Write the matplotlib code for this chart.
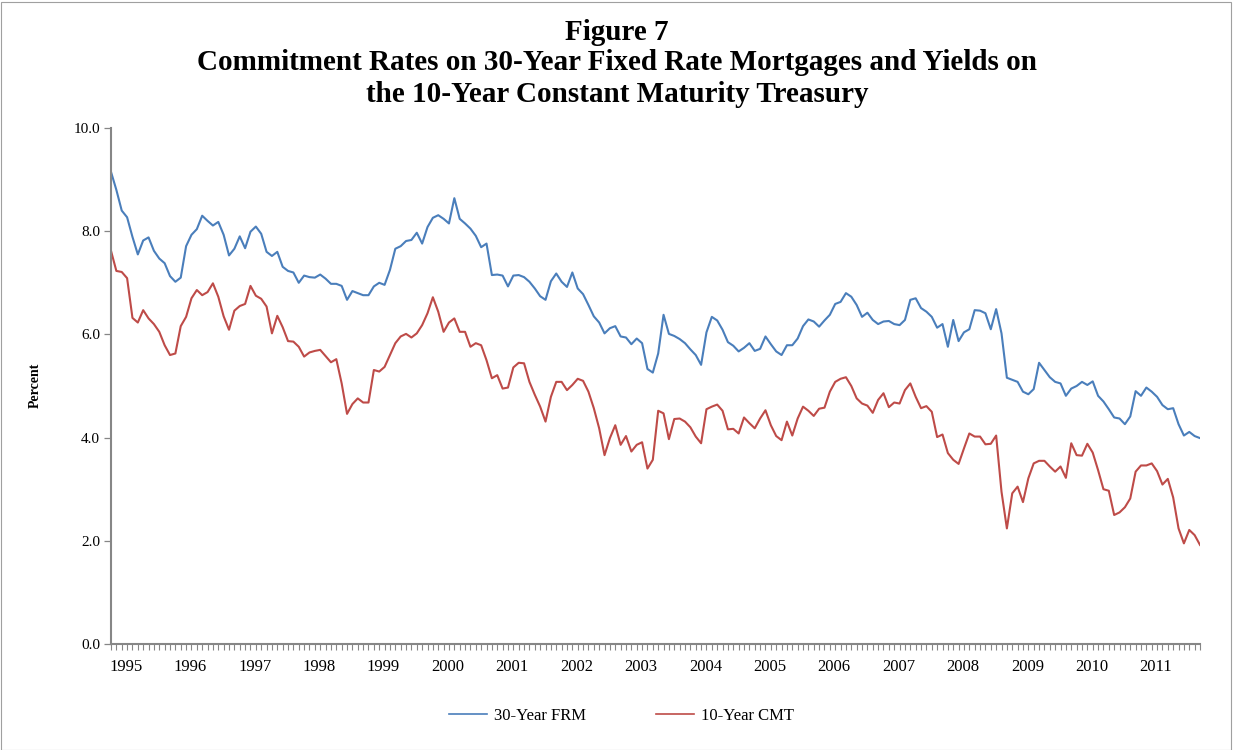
import numpy as np
import matplotlib
matplotlib.use("Agg")
import matplotlib.pyplot as plt
from matplotlib.lines import Line2D
from matplotlib.patches import Rectangle

# ---------------- data (monthly, Jan 1995 - Dec 2011) ----------------
years = [str(y) for y in range(1995, 2012)]

frm_30yr = [
    9.15, 8.80, 8.40, 8.27, 7.89, 7.55, 7.82, 7.88, 7.62, 7.47, 7.38, 7.13,
    7.02, 7.10, 7.71, 7.93, 8.04, 8.30, 8.20, 8.11, 8.18, 7.93, 7.53, 7.66,
    7.90, 7.67, 7.99, 8.09, 7.95, 7.60, 7.52, 7.60, 7.31, 7.23, 7.20, 7.00,
    7.14, 7.11, 7.10, 7.16, 7.08, 6.98, 6.98, 6.94, 6.67, 6.84, 6.80, 6.76,
    6.76, 6.93, 7.00, 6.96, 7.25, 7.66, 7.71, 7.81, 7.83, 7.97, 7.76, 8.08,
    8.26, 8.31, 8.24, 8.15, 8.64, 8.24, 8.15, 8.05, 7.91, 7.69, 7.76, 7.15,
    7.16, 7.14, 6.93, 7.14, 7.15, 7.11, 7.02, 6.89, 6.74, 6.67, 7.03, 7.18,
    7.02, 6.92, 7.20, 6.89, 6.78, 6.57, 6.35, 6.23, 6.02, 6.12, 6.16, 5.96,
    5.94, 5.81, 5.92, 5.83, 5.33, 5.26, 5.63, 6.38, 6.01, 5.97, 5.91, 5.83,
    5.71, 5.60, 5.41, 6.04, 6.34, 6.27, 6.09, 5.85, 5.78, 5.67, 5.74, 5.83,
    5.68, 5.72, 5.96, 5.81, 5.67, 5.60, 5.79, 5.79, 5.92, 6.16, 6.29, 6.25,
    6.15, 6.27, 6.38, 6.59, 6.63, 6.80, 6.73, 6.57, 6.34, 6.42, 6.28, 6.20,
    6.25, 6.26, 6.20, 6.18, 6.28, 6.67, 6.70, 6.51, 6.44, 6.34, 6.13, 6.20,
    5.76, 6.28, 5.87, 6.04, 6.10, 6.47, 6.46, 6.41, 6.10, 6.49, 6.02, 5.16,
    5.12, 5.08, 4.89, 4.84, 4.94, 5.45, 5.31, 5.17, 5.08, 5.05, 4.81, 4.95,
    5.00, 5.08, 5.02, 5.09, 4.81, 4.70, 4.55, 4.39, 4.37, 4.26, 4.41, 4.90,
    4.81, 4.97, 4.89, 4.79, 4.63, 4.55, 4.57, 4.26, 4.04, 4.11, 4.03, 3.99,
]

cmt_10yr = [
    7.62, 7.23, 7.21, 7.09, 6.32, 6.23, 6.47, 6.31, 6.20, 6.05, 5.79, 5.60,
    5.63, 6.16, 6.34, 6.70, 6.86, 6.76, 6.82, 6.99, 6.73, 6.35, 6.09, 6.46,
    6.55, 6.59, 6.94, 6.75, 6.69, 6.54, 6.02, 6.36, 6.14, 5.87, 5.86, 5.76,
    5.57, 5.65, 5.68, 5.70, 5.58, 5.46, 5.52, 5.05, 4.46, 4.65, 4.76, 4.68,
    4.68, 5.31, 5.28, 5.37, 5.60, 5.83, 5.96, 6.01, 5.94, 6.02, 6.18, 6.41,
    6.72, 6.44, 6.05, 6.23, 6.31, 6.05, 6.05, 5.76, 5.83, 5.79, 5.50, 5.15,
    5.21, 4.95, 4.97, 5.36, 5.45, 5.44, 5.08, 4.83, 4.60, 4.31, 4.79, 5.08,
    5.08, 4.92, 5.02, 5.14, 5.10, 4.89, 4.57, 4.18, 3.66, 3.99, 4.24, 3.86,
    4.03, 3.73, 3.86, 3.91, 3.40, 3.57, 4.52, 4.47, 3.97, 4.36, 4.37, 4.31,
    4.20, 4.02, 3.89, 4.55, 4.60, 4.64, 4.52, 4.16, 4.17, 4.08, 4.39, 4.28,
    4.18, 4.37, 4.53, 4.24, 4.03, 3.95, 4.31, 4.04, 4.37, 4.60, 4.52, 4.42,
    4.56, 4.58, 4.89, 5.08, 5.14, 5.17, 5.00, 4.76, 4.66, 4.62, 4.48, 4.73,
    4.86, 4.59, 4.68, 4.66, 4.92, 5.05, 4.79, 4.57, 4.61, 4.50, 4.01, 4.06,
    3.70, 3.57, 3.49, 3.79, 4.08, 4.02, 4.02, 3.87, 3.88, 4.04, 2.95, 2.24,
    2.92, 3.05, 2.75, 3.21, 3.50, 3.55, 3.55, 3.44, 3.34, 3.44, 3.22, 3.89,
    3.66, 3.65, 3.88, 3.71, 3.37, 3.00, 2.97, 2.50, 2.55, 2.65, 2.82, 3.34,
    3.46, 3.46, 3.50, 3.35, 3.09, 3.20, 2.84, 2.24, 1.95, 2.21, 2.11, 1.92,
]

series_names = ["30-Year FRM", "10-Year CMT"]
title_lines = [
    "Figure 7",
    "Commitment Rates on 30-Year Fixed Rate Mortgages and Yields on",
    "the 10-Year Constant Maturity Treasury",
]
y_label = "Percent"

# ---------------- style ----------------
plt.rcParams["font.family"] = ["Liberation Serif", "DejaVu Serif"]
BLUE = "#4A7EBB"
RED = "#BE4B48"
AXIS = "#868686"

W, H = 1233, 750
fig = plt.figure(figsize=(W / 100, H / 100), dpi=100)
ax = fig.add_axes([111 / W, 1 - 644 / H, (1200 - 111) / W, (644 - 128) / H])

x = np.arange(len(frm_30yr))
ax.plot(x, frm_30yr, color=BLUE, lw=1.5, solid_joinstyle="round", label=series_names[0])
ax.plot(x, cmt_10yr, color=RED, lw=1.5, solid_joinstyle="round", label=series_names[1])

ax.set_xlim(0, len(x) - 1)
ax.set_ylim(0, 10)

# y axis
yt = np.arange(0, 10.1, 2)
ax.set_yticks(yt)
ax.set_yticklabels([f"{v:.1f}" for v in yt])
ax.tick_params(axis="y", direction="out", length=5, width=0.9, color=AXIS,
               labelsize=11, pad=3)
fig.text(35 / W, 1 - 385 / H, y_label, rotation=90, ha="center", va="center",
         fontsize=10, fontweight="bold")

# x axis: monthly minor ticks, year labels
ax.set_xticks(np.arange(0, len(x)), minor=True)
label_pos = [2.8 + 12 * i for i in range(len(years))]
ax.set_xticks(label_pos)
ax.set_xticklabels(years)
ax.tick_params(axis="x", which="major", length=0, labelsize=12, pad=11)
ax.tick_params(axis="x", which="minor", direction="out", length=4, width=0.8, color=AXIS)

for s in ["top", "right"]:
    ax.spines[s].set_visible(False)
for s in ["left", "bottom"]:
    ax.spines[s].set_color(AXIS)
    ax.spines[s].set_linewidth(1.5)

# titles
ys = [32, 63, 95]
for t, yy in zip(title_lines, ys):
    fig.text(617 / W, 1 - yy / H, t, ha="center", va="center",
             fontsize=21, fontweight="bold")

# legend
handles = [Line2D([], [], color=BLUE, lw=1.2), Line2D([], [], color=RED, lw=1.2)]
fig.legend(handles, series_names, loc="center", bbox_to_anchor=(621 / W, 1 - 716 / H),
           ncol=2, frameon=False, fontsize=12, handlelength=2.3, handletextpad=0.4,
           columnspacing=4.2)

# chart border
fig.patches.append(Rectangle((0.5 / W, 0.5 / H), 1 - 2.5 / W, 1 - 2 / H,
                             transform=fig.transFigure, fill=False,
                             edgecolor="#A0A0A0", lw=0.8))

fig.savefig("out.png", dpi=100)
